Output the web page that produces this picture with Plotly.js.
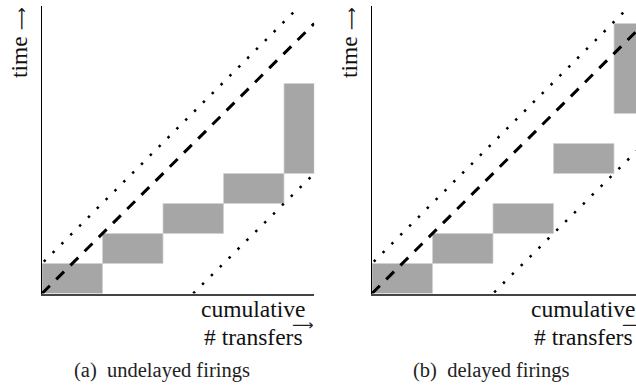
<!DOCTYPE html>
<html>
<head>
<meta charset="utf-8">
<script src="https://cdn.plot.ly/plotly-3.0.1.min.js"></script>
<style>html,body{margin:0;padding:0;background:#fff}#chart{width:636px;height:386px}</style>
</head>
<body>
<div id="chart"></div>
<script>
// Panel (a): undelayed firings — gray blocks (x = cumulative # transfers, y = time)
const blockX0A = [0, 1, 2, 3, 4];
const blockX1A = [1, 2, 3, 4, 4.5];
const blockY0A = [0, 1, 2, 3, 4];
const blockY1A = [1, 2, 3, 4, 7];
// Panel (b): delayed firings
const blockX0B = [0, 1, 2, 3, 4];
const blockX1B = [1, 2, 3, 4, 4.5];
const blockY0B = [0, 1, 2, 4, 6];
const blockY1B = [1, 2, 3, 5, 9];
// Guide lines
const dashedX = [0, 4.5];
const dashedY = [0, 9];
const upperDotX = [0.03, 4.2];
const upperDotY = [1.06, 9.46];
const lowerDotAX = [2.5, 4.48];
const lowerDotAY = [0, 3.96];
const lowerDotBX = [2.02, 4.5];
const lowerDotBY = [0.04, 5];
// Text
const yLabel = "time <span style='font-family:DejaVu Sans;font-size:16px'>\u27F6</span>";
const xLabel1 = 'cumulative';
const xLabel2 = '# transfers';
const xArrow = '\u27F6';
const captions = ['(a)\u00a0\u00a0undelayed firings', '(b)\u00a0\u00a0delayed firings'];

function blockPath(x0, x1, y0, y1) {
  const xs = [], ys = [];
  for (let i = 0; i < x0.length; i++) {
    xs.push(x0[i], x1[i], x1[i], x0[i], x0[i], null);
    ys.push(y0[i], y0[i], y1[i], y1[i], y0[i], null);
  }
  return {xs, ys};
}

const W = 636, H = 386;
const FONT = "Liberation Serif";
const gray = '#a6a6a6';

function panelTraces(xa, ya, bx0, bx1, by0, by1, lx, ly) {
  const p = blockPath(bx0, bx1, by0, by1);
  return [
    {x: p.xs, y: p.ys, xaxis: xa, yaxis: ya, type: 'scatter', mode: 'lines', fill: 'toself',
     fillcolor: gray, line: {color: '#d2d2d2', width: 0.8}, hoverinfo: 'skip', showlegend: false},
    {x: dashedX, y: dashedY, xaxis: xa, yaxis: ya, type: 'scatter', mode: 'lines',
     line: {color: '#000', width: 3, dash: '11px,9px'}, showlegend: false, hoverinfo: 'skip'},
    {x: upperDotX, y: upperDotY, xaxis: xa, yaxis: ya, type: 'scatter', mode: 'lines',
     line: {color: '#000', width: 2.5, dash: '2.5px,10px'}, showlegend: false, hoverinfo: 'skip'},
    {x: lx, y: ly, xaxis: xa, yaxis: ya, type: 'scatter', mode: 'lines',
     line: {color: '#000', width: 2.5, dash: '2.5px,10px'}, showlegend: false, hoverinfo: 'skip'}
  ];
}

const data = [].concat(
  panelTraces('x', 'y', blockX0A, blockX1A, blockY0A, blockY1A, lowerDotAX, lowerDotAY),
  panelTraces('x2', 'y2', blockX0B, blockX1B, blockY0B, blockY1B, lowerDotBX, lowerDotBY)
);

const pxPerX = 60.5, pxPerY = 30;
const y0px = 293.5, ytop = 5.5;
const yDom = [(H - y0px) / H, (H - ytop) / H];
const yRange = [0, (y0px - ytop) / pxPerY];
const axA = 42, axB = 372;

function xax(left, right) {
  return {domain: [left / W, Math.min(right, W) / W], range: [0, (Math.min(right, W) - left) / pxPerX],
          showgrid: false, zeroline: false, showticklabels: false, ticks: '',
          showline: true, linecolor: '#444', linewidth: 2, fixedrange: true};
}
function yax(anchor) {
  return {domain: yDom, range: yRange, anchor: anchor, showgrid: false, zeroline: false,
          showticklabels: false, ticks: '', showline: true, linecolor: '#000', linewidth: 1.5, fixedrange: true};
}

const annotations = [];
[0, 330].forEach((off, k) => {
  annotations.push(
    {text: yLabel, xref: 'paper', yref: 'paper', x: (19 + off) / W, y: (H - 43) / H, textangle: -90,
     showarrow: false, xanchor: 'center', yanchor: 'middle', font: {family: FONT, size: 23.5, color: '#111'}},
    {text: xLabel1, xref: 'paper', yref: 'paper', x: (307 + off) / W, y: (H - 309) / H,
     showarrow: false, xanchor: 'right', yanchor: 'middle', font: {family: FONT, size: 23.5, color: '#111'}},
    {text: xLabel2, xref: 'paper', yref: 'paper', x: (305 + off) / W, y: (H - 337) / H,
     showarrow: false, xanchor: 'right', yanchor: 'middle', font: {family: FONT, size: 23.5, color: '#111'}},
    {text: xArrow, xref: 'paper', yref: 'paper', x: (303 + off) / W, y: (H - 325) / H,
     showarrow: false, xanchor: 'center', yanchor: 'middle', font: {family: 'DejaVu Sans', size: 15, color: '#222'}},
    {text: captions[k], xref: 'paper', yref: 'paper', x: (161.5 + off) / W, y: (H - 370) / H,
     showarrow: false, xanchor: 'center', yanchor: 'middle', font: {family: FONT, size: 20.5, color: '#222'}}
  );
});

const layout = {
  width: W, height: H, margin: {l: 0, r: 0, t: 0, b: 0},
  paper_bgcolor: '#fff', plot_bgcolor: 'rgba(0,0,0,0)', showlegend: false,
  xaxis: xax(axA, axA + 4.5 * pxPerX), yaxis: yax('x'),
  xaxis2: xax(axB, axB + 4.5 * pxPerX), yaxis2: yax('x2'),
  annotations: annotations
};

Plotly.newPlot('chart', data, layout, {staticPlot: true, displayModeBar: false});
</script>
</body>
</html>
